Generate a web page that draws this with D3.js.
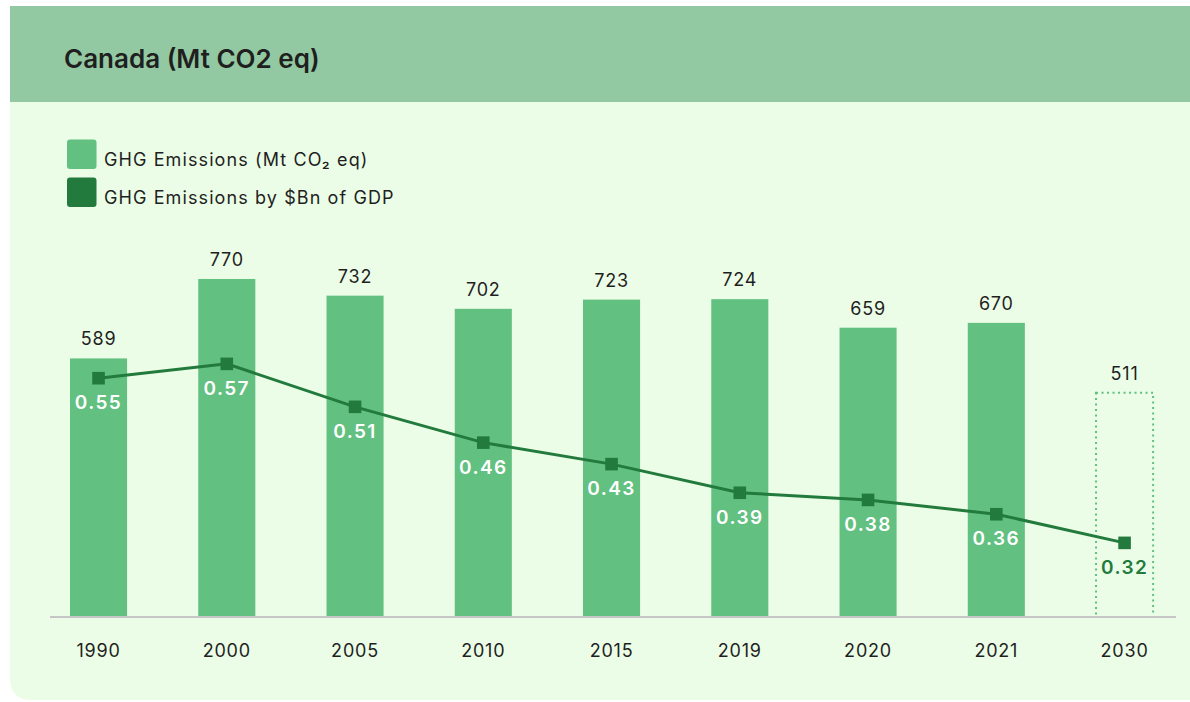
<!DOCTYPE html>
<html>
<head>
<meta charset="utf-8">
<script src="https://cdn.jsdelivr.net/npm/d3@7"></script>
<style>
  html, body { margin: 0; padding: 0; background: #ffffff; }
  svg { display: block; font-family: Inter, "Noto Sans", sans-serif; }
</style>
</head>
<body>
<svg id="chart" width="1190" height="702"></svg>
<script>
// Canada greenhouse-gas emissions and emissions intensity
const years = ["1990", "2000", "2005", "2010", "2015", "2019", "2020", "2021", "2030"];
const emissions = [589, 770, 732, 702, 723, 724, 659, 670, 511];      // Mt CO2 eq
const intensity = [0.55, 0.57, 0.51, 0.46, 0.43, 0.39, 0.38, 0.36, 0.32]; // per $Bn of GDP
const targetYear = "2030";
const legendLabels = ["GHG Emissions (Mt CO\u2082 eq)", "GHG Emissions by $Bn of GDP"];
const title = "Canada (Mt CO2 eq)";

const colors = {
  header: "#93c9a2",
  card: "#ebfde6",
  bar: "#62c080",
  line: "#237a3d",
  text: "#1f1f1f",
  axis: "#c6c6c6"
};

const rows = years.map((y, i) => ({ year: y, value: emissions[i], ratio: intensity[i] }));

const svg = d3.select("#chart");

// card: square top-left, rounded bottom-left, running off the right edge
const cx = 10, cy = 6, cw = 1200, ch = 694, r = 22;
svg.append("path")
  .attr("d", `M${cx},${cy} H${cx + cw} V${cy + ch} H${cx + r} Q${cx},${cy + ch} ${cx},${cy + ch - r} Z`)
  .attr("fill", colors.card);
svg.append("rect")
  .attr("x", cx).attr("y", cy).attr("width", cw).attr("height", 96)
  .attr("fill", colors.header);
svg.append("text")
  .attr("x", 64).attr("y", 68)
  .attr("font-size", 26).attr("font-weight", 600)
  .attr("fill", colors.text)
  .text(title);

// legend
const legend = svg.append("g");
[colors.bar, colors.line].forEach((c, i) => {
  legend.append("rect")
    .attr("x", 67).attr("y", 139.5 + i * 38)
    .attr("width", 29.5).attr("height", 29.5).attr("rx", 3)
    .attr("fill", c);
  legend.append("text")
    .attr("x", 104).attr("y", 166 + i * 38)
    .attr("font-size", 18).attr("fill", colors.text)
    .attr("letter-spacing", 1.1)
    .text(legendLabels[i]);
});

// scales
const x = d3.scaleBand().domain(years).range([34.4, 1188.7])
  .paddingInner(0.555).paddingOuter(0.2775);
const y = d3.scaleLinear().domain([0, 800]).range([617, 265.8]);
const y2 = d3.scaleLinear().domain([0.2, 0.6]).range([628.8, 342.4]);

// bars
const actual = rows.filter(d => d.year !== targetYear);
const target = rows.filter(d => d.year === targetYear);

svg.append("g").selectAll("rect").data(actual).join("rect")
  .attr("x", d => x(d.year)).attr("width", x.bandwidth())
  .attr("y", d => y(d.value)).attr("height", d => y(0) - y(d.value))
  .attr("fill", colors.bar);

svg.append("g").selectAll("rect").data(target).join("rect")
  .attr("x", d => x(d.year)).attr("width", x.bandwidth())
  .attr("y", d => y(d.value)).attr("height", d => y(0) - y(d.value))
  .attr("fill", "none")
  .attr("stroke", colors.bar).attr("stroke-width", 2)
  .attr("stroke-dasharray", "2 3.5");

// bar value labels
svg.append("g").selectAll("text").data(rows).join("text")
  .attr("x", d => x(d.year) + x.bandwidth() / 2)
  .attr("y", d => y(d.value) - 13)
  .attr("text-anchor", "middle")
  .attr("font-size", 18).attr("letter-spacing", 0.8)
  .attr("fill", colors.text)
  .text(d => d.value);

// baseline
svg.append("line")
  .attr("x1", 50).attr("x2", 1176)
  .attr("y1", y(0)).attr("y2", y(0))
  .attr("stroke", colors.axis).attr("stroke-width", 2);

// x axis labels
const xAxis = svg.append("g")
  .attr("transform", `translate(0,${y(0)})`)
  .call(d3.axisBottom(x).tickSize(0).tickPadding(27));
xAxis.select(".domain").remove();
xAxis.selectAll("text")
  .attr("font-family", "Inter, 'Noto Sans', sans-serif")
  .attr("font-size", 18).attr("letter-spacing", 0.8)
  .attr("fill", colors.text);

// intensity line
const cxOf = d => x(d.year) + x.bandwidth() / 2;
svg.append("path")
  .datum(rows)
  .attr("d", d3.line().x(cxOf).y(d => y2(d.ratio)))
  .attr("fill", "none")
  .attr("stroke", colors.line).attr("stroke-width", 3);

svg.append("g").selectAll("rect").data(rows).join("rect")
  .attr("x", d => cxOf(d) - 6.3).attr("y", d => y2(d.ratio) - 6.3)
  .attr("width", 12.6).attr("height", 12.6)
  .attr("fill", colors.line);

svg.append("g").selectAll("text").data(rows).join("text")
  .attr("x", cxOf)
  .attr("y", d => y2(d.ratio) + 31)
  .attr("text-anchor", "middle")
  .attr("font-size", 19).attr("font-weight", 600).attr("letter-spacing", 1.4)
  .attr("fill", d => d.year === targetYear ? colors.line : "#ffffff")
  .text(d => d3.format(".2f")(d.ratio));
</script>
</body>
</html>
